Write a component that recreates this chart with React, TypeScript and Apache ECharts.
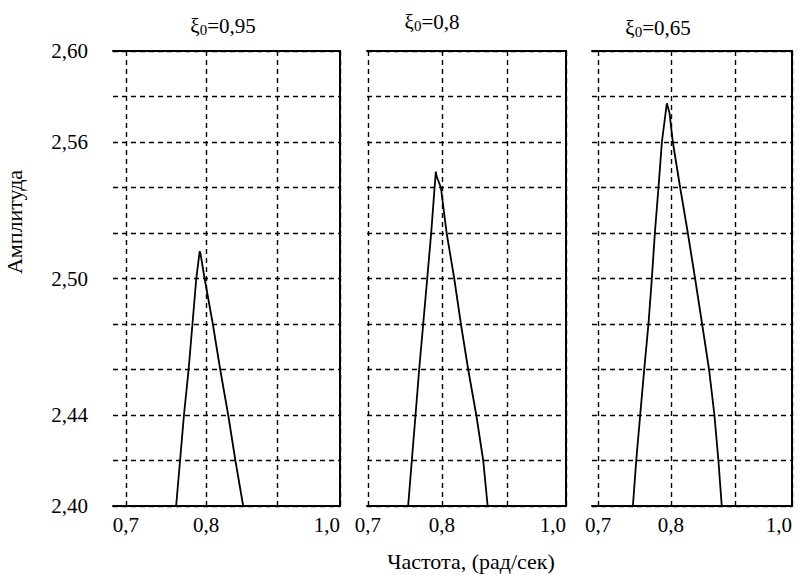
import React, { useEffect, useRef } from 'react';
import * as echarts from 'echarts';

// ---- data ----
const panelTitles = ['0,95', '0,8', '0,65'];
const xMinFreq = [0.685, 0.699, 0.692];
const xMaxFreq = 1.0;
const xGridFreqs = [0.7, 0.8, 0.9, 1.0];
const xLabelFreqs = [0.7, 0.8, 1.0];
const yMin = 2.4;
const yMax = 2.6;
const yStep = 0.02;
const yLabelValues = [2.4, 2.44, 2.5, 2.56, 2.6];

// ξ0 = 0,95
const freq1 = [0.761, 0.766, 0.771, 0.777, 0.782, 0.787, 0.7915, 0.7925, 0.795, 0.798, 0.809, 0.819, 0.830, 0.840, 0.851];
const amp1 = [2.40, 2.42, 2.44, 2.46, 2.48, 2.50, 2.512, 2.511, 2.506, 2.50, 2.48, 2.46, 2.44, 2.42, 2.40];
// ξ0 = 0,8
const freq2 = [0.7527, 0.7577, 0.7628, 0.7678, 0.7734, 0.779, 0.7846, 0.7894, 0.7912, 0.7922, 0.7984, 0.8067, 0.8178, 0.8277, 0.8386, 0.8509, 0.8616, 0.8685];
const amp2 = [2.40, 2.42, 2.44, 2.46, 2.48, 2.50, 2.52, 2.54, 2.547, 2.545, 2.54, 2.52, 2.50, 2.48, 2.46, 2.44, 2.42, 2.40];
// ξ0 = 0,65
const freq3 = [0.7461, 0.7507, 0.7562, 0.7618, 0.7678, 0.7726, 0.7769, 0.7821, 0.787, 0.7942, 0.798, 0.803, 0.8139, 0.8255, 0.8366, 0.8475, 0.8584, 0.8669, 0.8733, 0.8787];
const amp3 = [2.40, 2.42, 2.44, 2.46, 2.48, 2.50, 2.52, 2.54, 2.56, 2.577, 2.573, 2.56, 2.54, 2.52, 2.50, 2.48, 2.46, 2.44, 2.42, 2.40];

const freqs = [freq1, freq2, freq3];
const amps = [amp1, amp2, amp3];

const FONT = 'Liberation Serif, DejaVu Serif, serif';

export default function App() {
  const ref = useRef<HTMLDivElement>(null);

  useEffect(() => {
    if (!ref.current) return;
    const chart = echarts.init(ref.current, undefined, { renderer: 'svg' });

    const gridLefts = [113, 367, 592];
    const gridWidths = [227, 199, 200];
    const gridTop = 51;
    const gridHeight = 455;
    const titlePos = [
      [223, 26],
      [432, 22],
      [658, 28],
    ];

    const grids = gridLefts.map((l, i) => ({
      left: l,
      top: gridTop,
      width: gridWidths[i],
      height: gridHeight,
      containLabel: false,
    }));

    const frameLine = { show: true, onZero: false, lineStyle: { color: '#000', width: 2 } };
    const dashed = { show: true, lineStyle: { color: '#000', width: 1.4, type: [5, 4] as any } };
    const fmtX = (v: number) => Math.exp(v).toFixed(1).replace('.', ',');

    const xAxes: any[] = [];
    const yAxes: any[] = [];
    for (let i = 0; i < 3; i++) {
      xAxes.push({
        type: 'value',
        gridIndex: i,
        position: 'bottom',
        min: Math.log(xMinFreq[i]),
        max: Math.log(xMaxFreq),
        axisLine: frameLine,
        axisTick: { show: false, customValues: xGridFreqs.map((f) => Math.log(f)) },
        splitLine: dashed,
        axisLabel: {
          show: true,
          customValues: xLabelFreqs.map((f) => Math.log(f)),
          formatter: fmtX,
          color: '#000',
          fontFamily: FONT,
          fontSize: 21,
          margin: 8,
          alignMaxLabel: 'right',
        },
      });
    }
    for (let i = 0; i < 3; i++) {
      xAxes.push({
        type: 'value',
        gridIndex: i,
        position: 'top',
        min: 0,
        max: 1,
        axisLine: frameLine,
        axisTick: { show: false },
        splitLine: { show: false },
        axisLabel: { show: false },
      });
    }
    for (let i = 0; i < 3; i++) {
      yAxes.push({
        type: 'value',
        gridIndex: i,
        position: 'left',
        min: yMin,
        max: yMax,
        interval: yStep,
        axisLine: { show: false, onZero: false },
        axisTick: { show: false },
        splitLine: dashed,
        axisLabel: {
          show: i === 0,
          customValues: yLabelValues,
          formatter: (v: number) => v.toFixed(2).replace('.', ','),
          color: '#000',
          fontFamily: FONT,
          fontSize: 21,
          margin: 25,
        },
      });
    }
    for (let i = 0; i < 3; i++) {
      yAxes.push({
        type: 'value',
        gridIndex: i,
        position: 'right',
        min: 0,
        max: 1,
        axisLine: frameLine,
        axisTick: { show: false },
        splitLine: { show: false },
        axisLabel: { show: false },
      });
    }

    const series = freqs.map((fs, i) => ({
      type: 'line',
      xAxisIndex: i,
      yAxisIndex: i,
      showSymbol: false,
      symbol: 'none',
      lineStyle: { color: '#000', width: 1.8 },
      data: fs.map((f, j) => [Math.log(f), amps[i][j]]),
      z: 5,
    }));

    const graphics: any[] = panelTitles.map((t, i) => ({
      type: 'text',
      x: titlePos[i][0],
      y: titlePos[i][1],
      style: {
        text: `{a|ξ}{s|0}{a|=${t}}`,
        align: 'center',
        verticalAlign: 'middle',
        rich: {
          a: { fontFamily: FONT, fontSize: 21, fill: '#000' },
          s: { fontFamily: FONT, fontSize: 15, fill: '#000', padding: [8, 0, 0, 0] },
        },
      },
    }));
    graphics.push({
      type: 'text',
      x: 14,
      y: 222,
      rotation: Math.PI / 2,
      style: {
        text: 'Амплитуда',
        fontFamily: FONT,
        fontSize: 22,
        fill: '#000',
        align: 'center',
        verticalAlign: 'middle',
      },
    });
    graphics.push({
      type: 'text',
      x: 471,
      y: 561,
      style: {
        text: 'Частота, (рад/сек)',
        fontFamily: FONT,
        fontSize: 22,
        fill: '#000',
        align: 'center',
        verticalAlign: 'middle',
      },
    });

    chart.setOption({
      animation: false,
      backgroundColor: '#fff',
      grid: grids,
      xAxis: xAxes,
      yAxis: yAxes,
      series,
      graphic: graphics,
    });

    return () => chart.dispose();
  }, []);

  return (
    <div
      ref={ref}
      style={{ position: 'absolute', left: 0, top: 0, width: 801, height: 575 }}
    />
  );
}
